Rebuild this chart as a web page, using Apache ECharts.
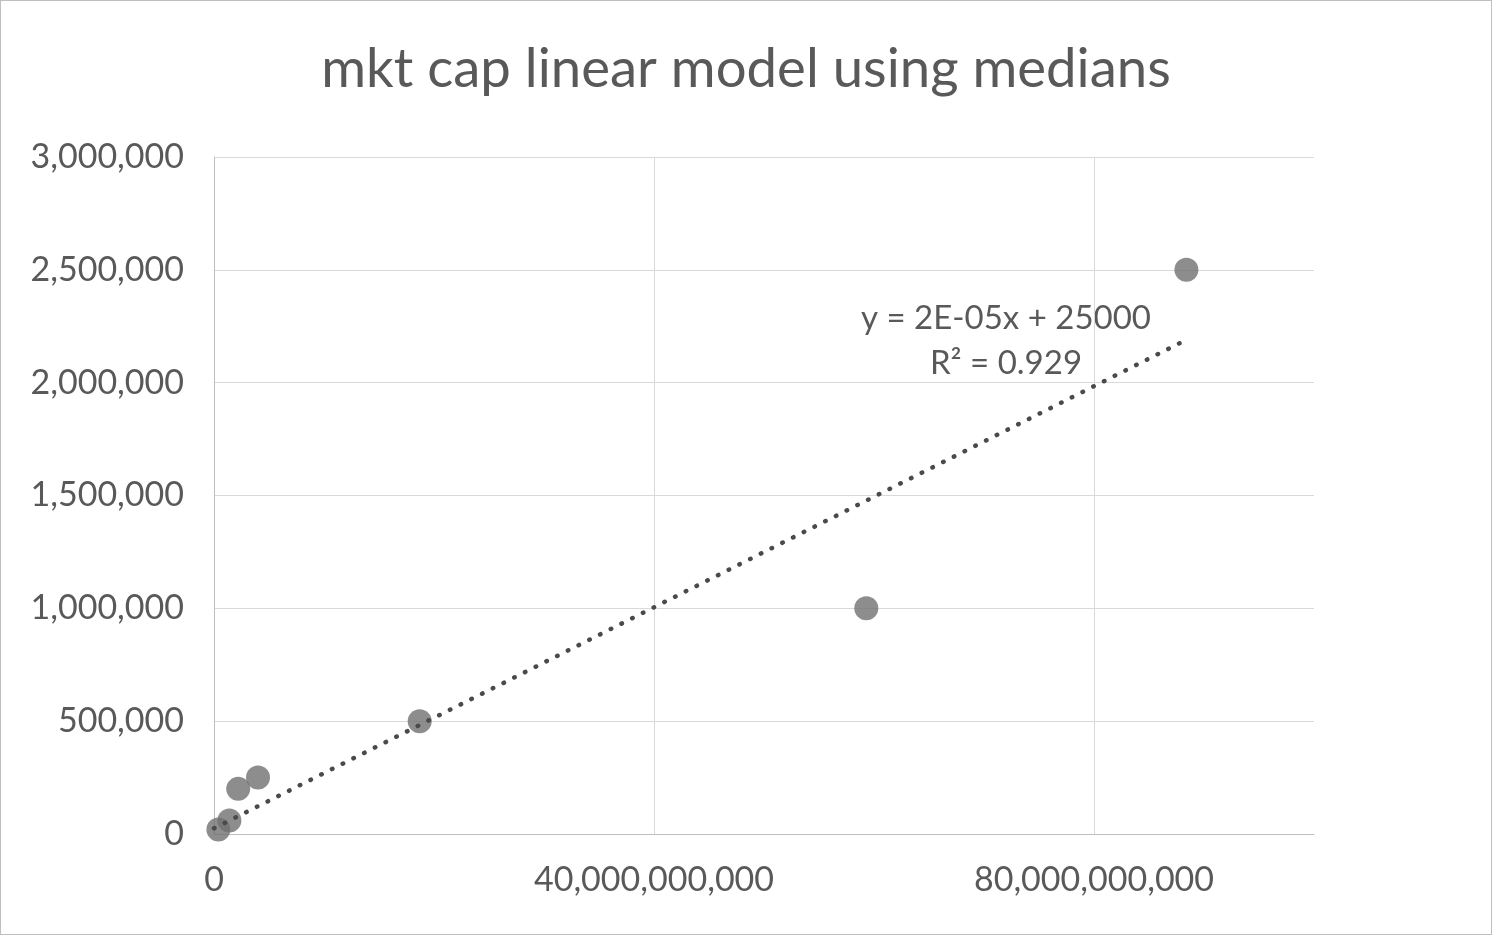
<!DOCTYPE html>
<html>
<head>
<meta charset="utf-8">
<script src="https://cdn.jsdelivr.net/npm/echarts@6/dist/echarts.min.js"></script>
<style>
  html, body { margin: 0; padding: 0; background: #fff; }
  #chart { width: 1492px; height: 935px; box-sizing: border-box; border: 1px solid #bfbfbf; }
</style>
</head>
<body>
<div id="chart"></div>
<script>
// market cap (x) vs median value (y)
var mktCap = [0.4e9, 1.4e9, 2.2e9, 4.0e9, 18.7e9, 59.3e9, 88.4e9];
var medianVal = [20000, 60000, 200000, 250000, 500000, 1000000, 2500000];

// linear trendline, ends
var trendX = [0, 88.4e9];
var trendY = [25000, 2190000];

var trendLabel = ['y = 2E-05x + 25000', 'R² = 0.929'];

var points = mktCap.map(function (x, i) { return [x, medianVal[i]]; });
var trend = trendX.map(function (x, i) { return [x, trendY[i]]; });

var chart = echarts.init(document.getElementById('chart'));

function fmt(v) {
  return Number(v).toLocaleString('en-US');
}

var option = {
  backgroundColor: '#fff',
  animation: false,
  title: {
    text: 'mkt cap linear model using medians',
    left: 'center',
    top: 36,
    textStyle: {
      fontFamily: 'Lato',
      fontWeight: 'normal',
      fontSize: 54.5,
      color: '#595959'
    }
  },
  grid: {
    left: 213,
    right: 177,
    top: 156,
    bottom: 100,
    containLabel: false
  },
  xAxis: {
    type: 'value',
    min: 0,
    max: 100e9,
    interval: 40e9,
    axisLine: { show: true, lineStyle: { color: '#bfbfbf', width: 1 } },
    axisTick: { show: false },
    axisLabel: {
      margin: 29,
      showMaxLabel: false,
      fontFamily: 'Lato',
      fontSize: 34,
      color: '#595959',
      formatter: fmt
    },
    splitLine: { show: true, showMaxLine: false, lineStyle: { color: '#d9d9d9', width: 1 } }
  },
  yAxis: {
    type: 'value',
    min: 0,
    max: 3000000,
    interval: 500000,
    axisLine: { show: true, lineStyle: { color: '#bfbfbf', width: 1 } },
    axisTick: { show: false },
    axisLabel: {
      margin: 30,
      fontFamily: 'Lato',
      fontSize: 34,
      color: '#595959',
      formatter: fmt
    },
    splitLine: { show: true, lineStyle: { color: '#d9d9d9', width: 1 } }
  },
  series: [
    {
      type: 'scatter',
      data: points,
      symbol: 'circle',
      symbolSize: 24,
      itemStyle: { color: '#707070' },
      z: 2
    },
    {
      type: 'line',
      data: trend,
      showSymbol: false,
      symbol: 'none',
      lineStyle: {
        color: '#4a4a4a',
        width: 4.5,
        type: [0.5, 11.5],
        cap: 'round'
      },
      z: 3
    }
  ],
  graphic: [
    {
      type: 'text',
      left: 1010 - 150,
      top: 295,
      style: {
        text: trendLabel.join('\n'),
        x: 150,
        textAlign: 'center',
        fontFamily: 'Lato',
        fontSize: 33,
        lineHeight: 45,
        fill: '#595959'
      }
    }
  ]
};

chart.setOption(option);
</script>
</body>
</html>
